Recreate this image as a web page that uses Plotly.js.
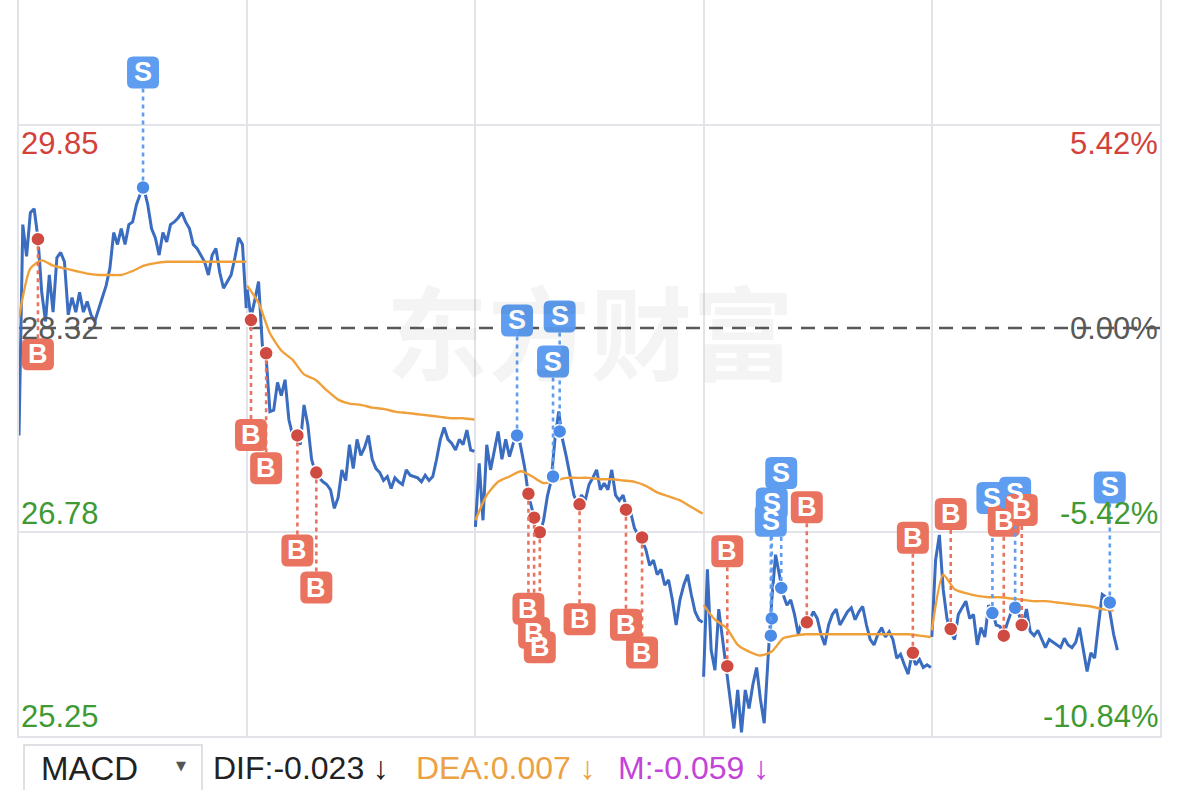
<!DOCTYPE html>
<html><head><meta charset="utf-8">
<script src="https://cdn.plot.ly/plotly-3.0.1.min.js"></script>
<style>html,body{margin:0;padding:0;background:#fff;overflow:hidden}#chart{width:1179px;height:790px}</style>
</head><body><div id="chart"></div>
<script>
// ---------- data ----------
const prevClose = 28.32;
const minutesPerDay = 241;
const priceStep = 4;   // minutes between price samples
const avgStep = 12;    // minutes between average-price samples

const day1Price = [27.51,29.10,28.86,29.19,29.22,29.00,28.59,28.37,28.72,28.44,
  28.85,28.89,28.82,28.42,28.55,28.44,28.59,28.44,28.52,28.42,
  28.37,28.47,28.55,28.64,28.77,29.04,28.95,29.07,28.95,29.10,
  29.12,29.25,29.33,29.37,29.25,29.07,29.00,28.87,29.04,28.97,
  29.10,29.12,29.15,29.19,29.12,29.07,28.95,28.92,28.87,28.82,
  28.72,28.87,28.92,28.74,28.62,28.67,28.72,28.85,29.00,28.95,28.47];
const day2Price = [28.61,28.40,28.53,28.67,28.19,28.10,27.69,27.70,27.91,27.81,
  27.93,27.63,27.51,27.50,27.44,27.74,27.59,27.33,27.23,27.19,
  27.16,27.14,27.10,26.96,27.04,27.25,27.17,27.44,27.26,27.48,
  27.36,27.42,27.51,27.33,27.26,27.23,27.17,27.20,27.11,27.19,
  27.16,27.14,27.25,27.21,27.20,27.19,27.16,27.21,27.17,27.20,
  27.33,27.48,27.57,27.48,27.45,27.40,27.48,27.44,27.55,27.40,27.39];
const day3Price = [26.82,27.30,26.87,27.44,27.25,27.40,27.54,27.33,27.48,27.35,
  27.45,27.55,27.42,27.27,27.06,26.95,26.80,26.76,26.87,27.05,
  27.17,27.48,27.69,27.48,27.35,27.19,27.06,26.99,27.06,27.02,
  27.14,27.19,27.25,27.10,27.15,27.10,27.25,27.06,27.02,27.06,
  26.95,26.93,26.81,26.76,26.72,26.65,26.53,26.57,26.46,26.50,
  26.38,26.42,26.27,26.08,26.27,26.38,26.46,26.31,26.18,26.12,26.10];
const day4Price = [25.69,26.50,25.89,25.74,26.20,25.97,25.78,25.52,25.30,25.59,
  25.27,25.59,25.45,25.63,25.76,25.52,25.34,25.82,26.27,26.61,
  26.46,26.31,26.23,26.27,26.16,26.01,26.12,26.08,26.12,26.18,
  26.13,26.01,25.93,26.08,26.16,26.20,26.08,26.13,26.18,26.21,
  26.12,26.18,26.22,26.08,25.97,25.93,26.01,26.06,25.99,26.03,
  25.97,25.83,25.86,25.78,25.71,25.86,25.78,25.82,25.76,25.78,25.76];
const day5Price = [25.99,26.57,26.76,26.35,26.13,26.03,25.97,26.16,26.21,26.26,
  26.13,26.16,25.93,26.06,25.99,26.23,26.18,26.08,26.07,26.01,
  26.10,26.18,26.21,26.16,26.08,26.20,26.03,26.00,26.04,25.98,
  25.91,25.97,25.95,25.93,25.91,25.98,25.93,25.91,25.95,26.06,
  25.89,25.73,25.87,25.83,26.08,26.31,26.29,26.18,26.01,25.89];

const day1Avg = [28.40,28.77,28.83,28.79,28.77,28.75,28.73,28.72,28.72,28.72,28.75,28.79,28.81,28.82,28.82,28.82,28.82,28.82,28.82,28.82,28.82];
const day2Avg = [28.64,28.51,28.28,28.15,28.08,27.97,27.93,27.85,27.78,27.75,27.74,27.72,27.71,27.69,27.68,27.67,27.66,27.65,27.64,27.64,27.63];
const day3Avg = [26.87,27.06,27.16,27.20,27.24,27.20,27.15,27.17,27.19,27.19,27.19,27.18,27.18,27.17,27.16,27.13,27.08,27.05,27.02,26.97,26.92];
const day4Avg = [26.23,26.12,26.06,25.93,25.88,25.85,25.88,25.98,26.00,26.01,26.01,26.01,26.01,26.01,26.01,26.01,26.01,26.01,26.01,26.00,25.99];
const day5Avg = [26.04,26.46,26.35,26.32,26.30,26.29,26.29,26.28,26.27,26.26,26.26,26.25,26.24,26.23,26.22,26.20,26.19];

// trades: day index, minute in day, side, price
const tradeDay    = [0,0, 1,1,1,1, 2,2,2,2,2,2,2,2,2, 3,3,3,3,3,3, 4,4,4,4,4,4];
const tradeMinute = [20,131, 4,20,53,73, 44,56,62,68,82,89,110,159,176, 25,71,72,82,109,221, 20,64,76,88,95,188];
const tradeSide   = ['B','S', 'B','B','B','B', 'S','B','B','B','S','S','B','B','B', 'B','S','S','S','B','B', 'B','S','B','S','B','S'];
const tradePrice  = [28.99,29.38, 28.38,28.13,27.51,27.23, 27.51,27.07,26.89,26.78,27.20,27.54,26.99,26.95,26.74, 25.77,26.00,26.13,26.36,26.10,25.87, 26.05,26.17,26.00,26.21,26.08,26.25];

const tickLevels = [29.855, 28.32, 26.785, 25.25];
const leftTickLabels = ['29.85','28.32','26.78','25.25'];
const rightTickLabels = ['5.42%','0.00%','-5.42%','-10.84%'];
const watermark = '东方财富';
const indicatorName = 'MACD';
const indicatorTexts = ['DIF:-0.023 ↓','DEA:0.007 ↓','M:-0.059 ↓'];

// ---------- build ----------
const W = 1179, H = 790, ML = 19, MR = 19, MT = 0, MB = 54;
const plotH = H - MT - MB, plotW = W - ML - MR;
const yTop = 30.794, yBottom = 25.243;
const pxPerUnit = plotH / (yTop - yBottom);

const priceDays = [day1Price, day2Price, day3Price, day4Price, day5Price];
const avgDays = [day1Avg, day2Avg, day3Avg, day4Avg, day5Avg];

function series(days, step) {
  const xs = [], ys = [];
  days.forEach((arr, d) => {
    arr.forEach((v, k) => { xs.push(d * minutesPerDay + k * step); ys.push(v); });
    xs.push(null); ys.push(null);
  });
  return {xs, ys};
}
const ps = series(priceDays, priceStep);
const as = series(avgDays, avgStep);

const BLUE = '#3a6cc0', ORANGE = '#f0a03a';
const S_BOX = '#5e9df0', B_BOX = '#e9735f', S_DOT = '#4a8be8', B_DOT = '#cf4a40';
const RED = '#d2423a', GREEN = '#3f9a33', GRAY = '#595959', GRID = '#e3e4ea';

const traces = [
  {x: ps.xs, y: ps.ys, type: 'scatter', mode: 'lines', line: {color: BLUE, width: 3}, connectgaps: false, hoverinfo: 'skip'},
  {x: as.xs, y: as.ys, type: 'scatter', mode: 'lines', line: {color: ORANGE, width: 2.4, shape: 'spline', smoothing: 0.6}, connectgaps: false, hoverinfo: 'skip'}
];

const shapes = [
  {type: 'line', xref: 'paper', yref: 'y', x0: 0, x1: 1, y0: prevClose, y1: prevClose,
   line: {color: GRAY, width: 2.5, dash: '14px,9px'}, layer: 'between'}
];
const annotations = [];

function rr(cy, w, h, r) {
  const x0 = -w / 2, x1 = w / 2, y0 = cy - h / 2, y1 = cy + h / 2;
  return `M${x0 + r},${y0} L${x1 - r},${y0} Q${x1},${y0} ${x1},${y0 + r} L${x1},${y1 - r} Q${x1},${y1} ${x1 - r},${y1} L${x0 + r},${y1} Q${x0},${y1} ${x0},${y1 - r} L${x0},${y0 + r} Q${x0},${y0} ${x0 + r},${y0} Z`;
}

const OFF = 115, BOX = 32;
const dotS = {x: [], y: []}, dotB = {x: [], y: []};
tradeDay.forEach((d, i) => {
  const x = d * minutesPerDay + tradeMinute[i];
  const p = tradePrice[i];
  const side = tradeSide[i];
  let dir = 1;
  if (side === 'B') {
    dir = (p - (OFF + BOX / 2 + 2) / pxPerUnit >= yBottom) ? -1 : 1;
  }
  const boxCol = side === 'S' ? S_BOX : B_BOX;
  (side === 'S' ? dotS : dotB).x.push(x);
  (side === 'S' ? dotS : dotB).y.push(p);
  shapes.push({type: 'line', xref: 'x', yref: 'y', x0: x, x1: x, ysizemode: 'pixel', yanchor: p,
    y0: dir * 7, y1: dir * (OFF - BOX / 2), line: {color: boxCol, width: 2.6, dash: '4px,4px'}, layer: 'above'});
  shapes.push({type: 'path', xref: 'x', yref: 'y', xsizemode: 'pixel', xanchor: x, ysizemode: 'pixel', yanchor: p,
    path: rr(dir * OFF, BOX, BOX, 6), fillcolor: boxCol, line: {width: 0}, layer: 'above'});
  annotations.push({x: x, y: p, xref: 'x', yref: 'y', yshift: dir * OFF, text: '<b>' + side + '</b>', showarrow: false,
    font: {family: 'Liberation Sans, Arial, sans-serif', size: 27, color: '#ffffff'}});
});

traces.push({x: dotS.x, y: dotS.y, type: 'scatter', mode: 'markers', marker: {color: S_DOT, size: 14, line: {color: '#ffffff', width: 1.5}}, hoverinfo: 'skip'});
traces.push({x: dotB.x, y: dotB.y, type: 'scatter', mode: 'markers', marker: {color: B_DOT, size: 14, line: {color: '#ffffff', width: 1.5}}, hoverinfo: 'skip'});

// axis labels
const labelColors = [RED, GRAY, GREEN, GREEN];
const labelShift = [-19, 0, 18, 19];
tickLevels.forEach((lv, i) => {
  annotations.push({xref: 'paper', yref: 'y', x: 0, y: lv, xanchor: 'left', yanchor: 'middle', xshift: 0, yshift: labelShift[i],
    text: leftTickLabels[i], showarrow: false, font: {family: 'Liberation Sans, Arial, sans-serif', size: 31, color: labelColors[i]}});
  annotations.push({xref: 'paper', yref: 'y', x: 1, y: lv, xanchor: 'right', yanchor: 'middle', xshift: 0, yshift: labelShift[i],
    text: rightTickLabels[i], showarrow: false, font: {family: 'Liberation Sans, Arial, sans-serif', size: 31, color: labelColors[i]}});
});

// watermark
annotations.push({xref: 'paper', yref: 'y', x: (590 - ML) / plotW, y: prevClose, yshift: 0, text: watermark, showarrow: false,
  font: {family: 'Noto Sans CJK SC', size: 102, color: 'rgba(0,0,0,0.045)', weight: 700}});

// indicator row
function px2paperX(px) { return (px - ML) / plotW; }
function px2paperY(py) { return (plotH + MT - py) / plotH; }
shapes.push({type: 'rect', xref: 'paper', yref: 'paper', x0: px2paperX(24), x1: px2paperX(202), y0: px2paperY(745), y1: px2paperY(800),
  line: {color: '#d6d6db', width: 1.5}, fillcolor: '#ffffff', layer: 'above'});
annotations.push({xref: 'paper', yref: 'paper', x: px2paperX(39), y: px2paperY(768), xanchor: 'left', yanchor: 'middle', text: indicatorName,
  showarrow: false, font: {family: 'Liberation Sans, Arial, sans-serif', size: 33, color: '#222222'}});
annotations.push({xref: 'paper', yref: 'paper', x: px2paperX(181), y: px2paperY(766), xanchor: 'center', yanchor: 'middle', text: '▼',
  showarrow: false, font: {family: 'DejaVu Sans, sans-serif', size: 13, color: '#555555'}});
const indColors = ['#222222', '#eba144', '#c344d8'];
const indX = [211, 414, 616];
indicatorTexts.forEach((t, i) => {
  annotations.push({xref: 'paper', yref: 'paper', x: px2paperX(indX[i]), y: px2paperY(768), xanchor: 'left', yanchor: 'middle', text: t,
    showarrow: false, font: {family: 'Liberation Sans, Arial, sans-serif', size: 32, color: indColors[i]}});
});

const layout = {
  width: W, height: H, margin: {l: ML, r: MR, t: MT, b: MB, pad: 0},
  paper_bgcolor: '#ffffff', plot_bgcolor: '#ffffff', showlegend: false,
  xaxis: {range: [0, 5 * minutesPerDay], tickvals: [0, 241, 482, 723, 964, 1205], showticklabels: false, ticks: '',
    showgrid: true, gridcolor: GRID, gridwidth: 2, zeroline: false, showline: true, linecolor: GRID, linewidth: 2, fixedrange: true},
  yaxis: {range: [yBottom, yTop], tickvals: [29.855, 26.785, 25.25], showticklabels: false, ticks: '',
    showgrid: true, gridcolor: GRID, gridwidth: 2, zeroline: false, showline: true, mirror: true, linecolor: GRID, linewidth: 2, fixedrange: true},
  shapes: shapes, annotations: annotations
};

Plotly.newPlot('chart', traces, layout, {displayModeBar: false, staticPlot: true});
</script></body></html>
